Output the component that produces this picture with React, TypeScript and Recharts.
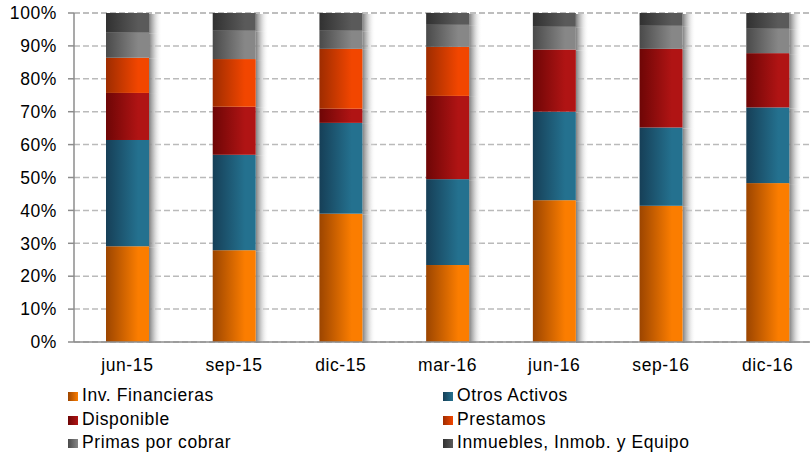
import { Bar, BarChart, CartesianGrid, XAxis, YAxis } from "recharts";

const PERIODS = ["jun-15", "sep-15", "dic-15", "mar-16", "jun-16", "sep-16", "dic-16"];

// participación (%) de cada rubro del activo
const INV_FINANCIERAS = [29.1, 27.9, 39.0, 23.4, 43.1, 41.4, 48.3];
const OTROS_ACTIVOS = [32.3, 29.0, 27.6, 26.1, 26.9, 23.8, 23.0];
const DISPONIBLE = [14.3, 14.6, 4.3, 25.3, 18.9, 23.9, 16.5];
const PRESTAMOS = [10.7, 14.5, 18.2, 14.9, 0, 0, 0];
const PRIMAS_POR_COBRAR = [7.6, 8.6, 5.5, 6.7, 6.9, 7.0, 7.4];
const INMUEBLES = [6.0, 5.4, 5.4, 3.6, 4.2, 3.9, 4.8];

const Y_TICKS = [0, 10, 20, 30, 40, 50, 60, 70, 80, 90, 100];

const SERIES = [
  { key: "inv", name: "Inv. Financieras", values: INV_FINANCIERAS, dark: "#9c4500", bright: "#fb7d00" },
  { key: "otros", name: "Otros Activos", values: OTROS_ACTIVOS, dark: "#163f57", bright: "#24718f" },
  { key: "disp", name: "Disponible", values: DISPONIBLE, dark: "#6e0606", bright: "#b01414" },
  { key: "prest", name: "Prestamos", values: PRESTAMOS, dark: "#9e2c00", bright: "#f24600" },
  { key: "primas", name: "Primas por cobrar", values: PRIMAS_POR_COBRAR, dark: "#4a4a4a", bright: "#878787" },
  { key: "inm", name: "Inmuebles, Inmob. y Equipo", values: INMUEBLES, dark: "#313131", bright: "#5a5a5a" },
];

// orden de la leyenda (dos columnas, como en el original)
const LEGEND_ORDER = ["inv", "otros", "disp", "prest", "primas", "inm"];

const EDGE_TICKS = [0, ...PERIODS.map((_, i) => i + 1)];

const data = PERIODS.map((period, i) => {
  const row: Record<string, string | number> = { period };
  SERIES.forEach((s) => {
    row[s.key] = s.values[i];
  });
  return row;
});

const FONT = "'Liberation Sans', Arial, sans-serif";
const AXIS_COLOR = "#8c8c8c";
const TEXT_STYLE = { fill: "#000", fontSize: 17.5, fontFamily: FONT, letterSpacing: 0.6 };

const segment = (key: string) => (props: any) => {
  const { x, y, width, height } = props;
  if (!height || height <= 0) return <g />;
  return (
    <g>
      <rect x={x + width} y={y + 1} width={13} height={height} fill="url(#bar-shadow)" />
      <rect x={x} y={y} width={width} height={height} fill={`url(#grad-${key})`} />
    </g>
  );
};

export default function App() {
  return (
    <div
      style={{
        position: "absolute",
        left: 0,
        top: 0,
        width: 810,
        height: 455,
        overflow: "hidden",
        background: "#fff",
        fontFamily: FONT,
      }}
    >
      <BarChart
        width={821}
        height={382}
        data={data}
        margin={{ top: 13, right: 0, bottom: 0, left: 0 }}
      >
        <defs>
          {SERIES.map((s) => (
            <linearGradient key={s.key} id={`grad-${s.key}`} x1="0" y1="0" x2="1" y2="0">
              <stop offset="0%" stopColor={s.dark} />
              <stop offset="75%" stopColor={s.bright} />
              <stop offset="100%" stopColor={s.bright} />
            </linearGradient>
          ))}
          <linearGradient id="bar-shadow" x1="0" y1="0" x2="1" y2="0">
            <stop offset="0%" stopColor="#7f7f7f" stopOpacity={1} />
            <stop offset="35%" stopColor="#b0b0b0" stopOpacity={0.75} />
            <stop offset="100%" stopColor="#ffffff" stopOpacity={0} />
          </linearGradient>
        </defs>
        <CartesianGrid
          vertical={false}
          stroke="#bababa"
          strokeWidth={1.5}
          strokeDasharray="6 3"
        />
        <XAxis
          xAxisId="edges"
          type="number"
          domain={[0, PERIODS.length]}
          allowDataOverflow
          ticks={EDGE_TICKS}
          tick={false}
          tickLine={{ stroke: AXIS_COLOR, strokeWidth: 1.5 }}
          tickSize={5}
          axisLine={false}
          height={0}
        />
        <XAxis
          dataKey="period"
          tickLine={false}
          tickSize={0}
          tickMargin={17}
          axisLine={{ stroke: AXIS_COLOR, strokeWidth: 1.5 }}
          tick={TEXT_STYLE}
          height={40}
          interval={0}
        />
        <YAxis
          width={74}
          domain={[0, 100]}
          ticks={Y_TICKS}
          tickFormatter={(v) => `${v}%`}
          tick={TEXT_STYLE}
          tickSize={6}
          tickMargin={11}
          axisLine={{ stroke: AXIS_COLOR, strokeWidth: 1.5 }}
          tickLine={{ stroke: AXIS_COLOR, strokeWidth: 1.5 }}
          interval={0}
        />
        {SERIES.map((s) => (
          <Bar
            key={s.key}
            dataKey={s.key}
            name={s.name}
            stackId="a"
            barSize={43}
            isAnimationActive={false}
            shape={segment(s.key)}
          />
        ))}
      </BarChart>

      <div style={{ position: "absolute", left: 0, top: 384, width: 810 }}>
        {LEGEND_ORDER.map((key, i) => {
          const s = SERIES.find((x) => x.key === key)!;
          const col = i % 2;
          const row = Math.floor(i / 2);
          return (
            <div
              key={key}
              style={{
                position: "absolute",
                left: col === 0 ? 68 : 443,
                top: row * 23.5,
                height: 23.5,
                lineHeight: "23.5px",
                fontSize: 17.5,
                letterSpacing: 0.6,
                color: "#000",
                whiteSpace: "nowrap",
              }}
            >
              <span
                style={{
                  position: "absolute",
                  left: 0,
                  top: 8,
                  width: 9.5,
                  height: 9,
                  background: `linear-gradient(to right, ${s.dark}, ${s.bright})`,
                }}
              />
              <span style={{ position: "absolute", left: 14 }}>{s.name}</span>
            </div>
          );
        })}
      </div>
    </div>
  );
}
